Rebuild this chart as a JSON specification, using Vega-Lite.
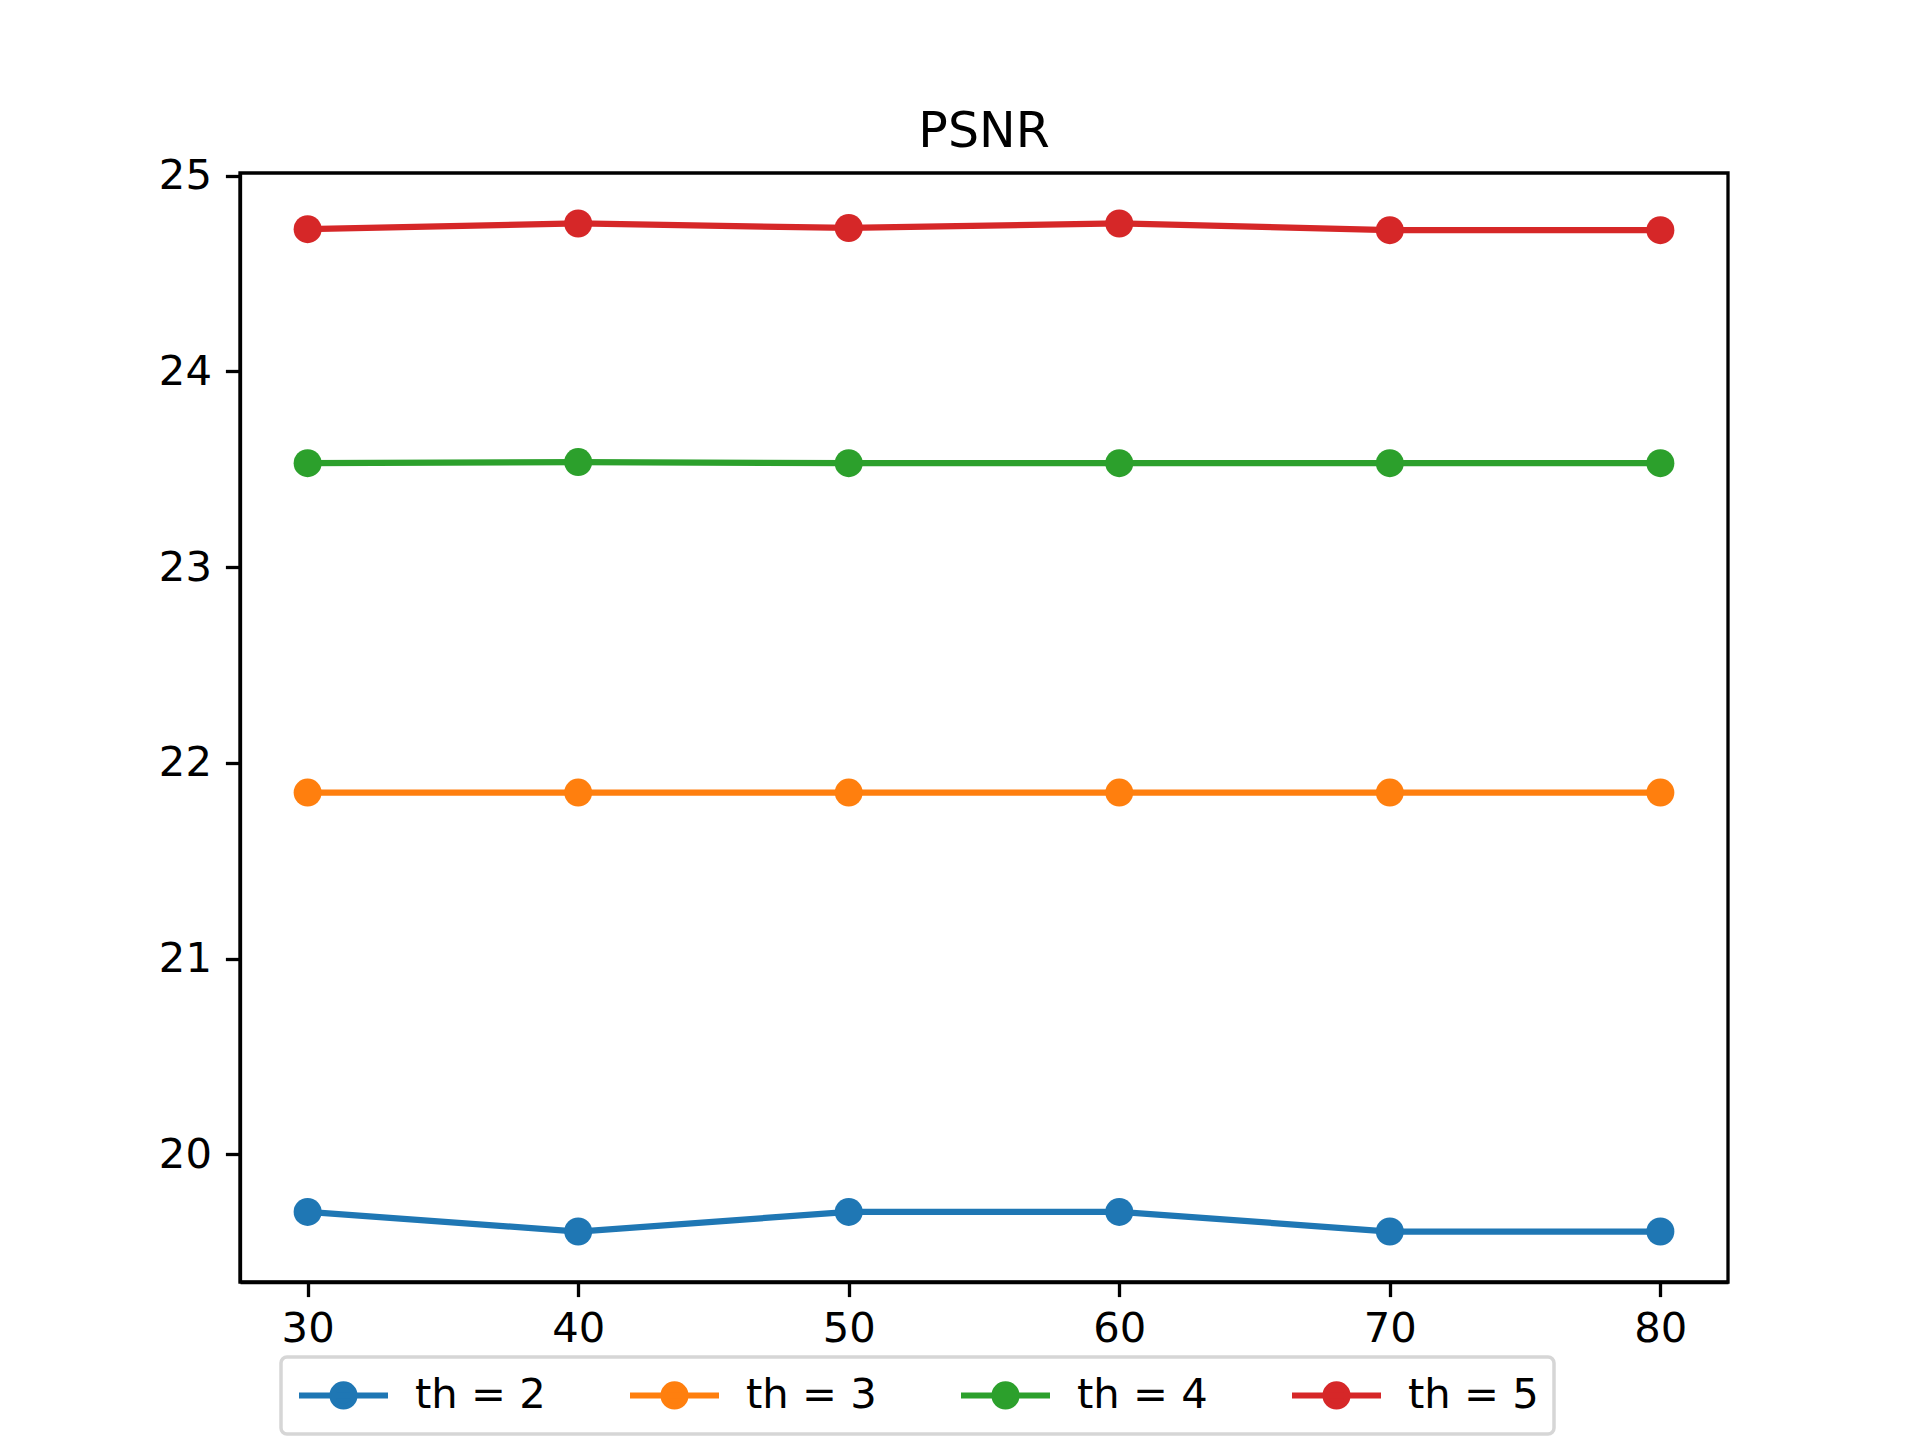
{
  "$schema": "https://vega.github.io/schema/vega-lite/v6.json",
  "autosize": {"type": "none"},
  "padding": {"left": 240, "top": 173, "right": 192, "bottom": 158},
  "width": 1488,
  "height": 1109,
  "background": "white",
  "title": {"text": "PSNR", "fontSize": 49, "font": "DejaVu Sans", "fontWeight": "normal", "color": "black", "anchor": "middle", "frame": "group", "baseline": "alphabetic", "offset": -40},
  "config": {
    "font": "DejaVu Sans",
    "view": {"stroke": "black", "strokeWidth": 3.3},
    "axis": {"grid": false, "domainColor": "black", "domainWidth": 3.3, "tickColor": "black", "tickWidth": 3.3, "tickSize": 14.6, "labelColor": "black", "labelFontSize": 41.7, "labelFont": "DejaVu Sans", "title": null}
  },
  "data": {"values": [
    {"x": 30, "v": 19.705, "th": "th = 2"},
    {"x": 40, "v": 19.605, "th": "th = 2"},
    {"x": 50, "v": 19.705, "th": "th = 2"},
    {"x": 60, "v": 19.705, "th": "th = 2"},
    {"x": 70, "v": 19.605, "th": "th = 2"},
    {"x": 80, "v": 19.605, "th": "th = 2"},
    {"x": 30, "v": 21.848, "th": "th = 3"},
    {"x": 40, "v": 21.848, "th": "th = 3"},
    {"x": 50, "v": 21.848, "th": "th = 3"},
    {"x": 60, "v": 21.848, "th": "th = 3"},
    {"x": 70, "v": 21.848, "th": "th = 3"},
    {"x": 80, "v": 21.848, "th": "th = 3"},
    {"x": 30, "v": 23.531, "th": "th = 4"},
    {"x": 40, "v": 23.537, "th": "th = 4"},
    {"x": 50, "v": 23.531, "th": "th = 4"},
    {"x": 60, "v": 23.531, "th": "th = 4"},
    {"x": 70, "v": 23.531, "th": "th = 4"},
    {"x": 80, "v": 23.531, "th": "th = 4"},
    {"x": 30, "v": 24.727, "th": "th = 5"},
    {"x": 40, "v": 24.756, "th": "th = 5"},
    {"x": 50, "v": 24.733, "th": "th = 5"},
    {"x": 60, "v": 24.756, "th": "th = 5"},
    {"x": 70, "v": 24.722, "th": "th = 5"},
    {"x": 80, "v": 24.722, "th": "th = 5"}
  ]},
  "encoding": {
    "x": {"field": "x", "type": "quantitative", "scale": {"domain": [27.5, 82.5], "nice": false, "zero": false}, "axis": {"values": [30, 40, 50, 60, 70, 80], "labelPadding": 12}},
    "y": {"field": "v", "type": "quantitative", "scale": {"domain": [19.347, 25.014], "nice": false, "zero": false}, "axis": {"values": [20, 21, 22, 23, 24, 25], "labelPadding": 14}},
    "color": {"field": "th", "type": "nominal",
      "scale": {"domain": ["th = 2", "th = 3", "th = 4", "th = 5"], "range": ["#1f77b4", "#ff7f0e", "#2ca02c", "#d62728"]},
      "legend": {
        "title": null, "orient": "none", "legendX": 41, "legendY": 1184, "direction": "horizontal", "columns": 4,
        "symbolType": "M-1,0L3.45,0M0.67,0A0.555,0.555 0 1,0 1.78,0A0.555,0.555 0 1,0 0.67,0",
        "symbolSize": 1600, "symbolStrokeWidth": 6, "labelFontSize": 41.7, "labelFont": "DejaVu Sans", "labelColor": "black",
        "labelOffset": 73, "columnPadding": 72, "padding": 15, "strokeColor": "#d6d6d6", "cornerRadius": 6, "fillColor": "white",
        "encode": {
          "legend": {"update": {"strokeWidth": {"value": 3.5}}},
          "symbols": {"update": {"fill": {"scale": "color", "field": "value"}, "stroke": {"scale": "color", "field": "value"}, "opacity": {"value": 1}, "strokeWidth": {"value": 6}}}
        }
      }
    }
  },
  "layer": [
    {"mark": {"type": "line", "strokeWidth": 6.25}},
    {"mark": {"type": "point", "filled": true, "size": 784, "opacity": 1}}
  ]
}
